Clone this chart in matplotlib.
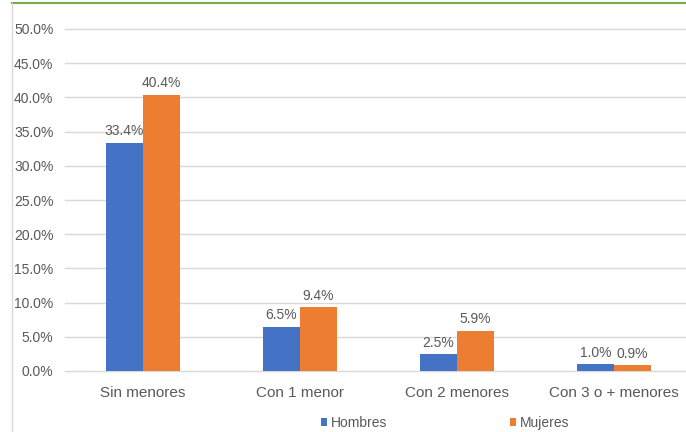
import matplotlib.pyplot as plt
import numpy as np
from matplotlib.lines import Line2D

plt.rcParams['font.family'] = ['Liberation Sans', 'DejaVu Sans']

categories = ["Sin menores", "Con 1 menor", "Con 2 menores", "Con 3 o + menores"]
hombres = [33.4, 6.5, 2.5, 1.0]
mujeres = [40.4, 9.4, 5.9, 0.9]
yticks = [0, 5, 10, 15, 20, 25, 30, 35, 40, 45, 50]

blue = "#4472C4"
orange = "#ED7D31"
text_col = "#595959"

fig = plt.figure(figsize=(6.86, 4.32), dpi=100)
ax = fig.add_axes([64.5 / 686, 61 / 432, 628 / 686, 342 / 432])

x = np.arange(len(categories))
w = 0.236
b1 = ax.bar(x - w / 2, hombres, w, color=blue, label="Hombres", zorder=3)
b2 = ax.bar(x + w / 2, mujeres, w, color=orange, label="Mujeres", zorder=3)

for bars, vals in ((b1, hombres), (b2, mujeres)):
    for rect, v in zip(bars, vals):
        ax.annotate(f"{v:.1f}%", (rect.get_x() + rect.get_width() / 2, v),
                    xytext=(0, 3), textcoords="offset points",
                    ha="center", va="bottom", fontsize=10, color=text_col)

ax.set_xlim(-0.5, 3.5)
ax.set_ylim(0, 50)
ax.set_yticks(yticks)
ax.set_yticklabels([f"{t:.1f}%" for t in yticks])
ax.set_xticks(x)
ax.set_xticklabels(categories)
ax.tick_params(axis="y", length=0, pad=8, labelsize=10, labelcolor=text_col)
ax.tick_params(axis="x", length=0, pad=11, labelsize=11, labelcolor=text_col)
ax.grid(axis="y", color="#D9D9D9", linewidth=1, zorder=0)
ax.set_axisbelow(True)
for s in ax.spines.values():
    s.set_visible(False)
for gl in ax.get_ygridlines():
    gl.set_clip_on(False)

fig.legend(handles=[b1, b2], labels=["Hombres", "Mujeres"], loc="center",
           bbox_to_anchor=(445 / 686, 9 / 432), ncol=2, frameon=False,
           fontsize=10, handlelength=0.5, handleheight=0.5, handletextpad=0.25,
           columnspacing=8.8, labelcolor=text_col)

# frame lines of the screenshot
fig.add_artist(Line2D([12 / 686, 1], [1 - 3 / 432, 1 - 3 / 432], color="#70AD47", linewidth=1.5))
fig.add_artist(Line2D([12 / 686, 12 / 686], [0, 1 - 3 / 432], color="#D9D9D9", linewidth=1))

fig.savefig("out.png", dpi=100)
